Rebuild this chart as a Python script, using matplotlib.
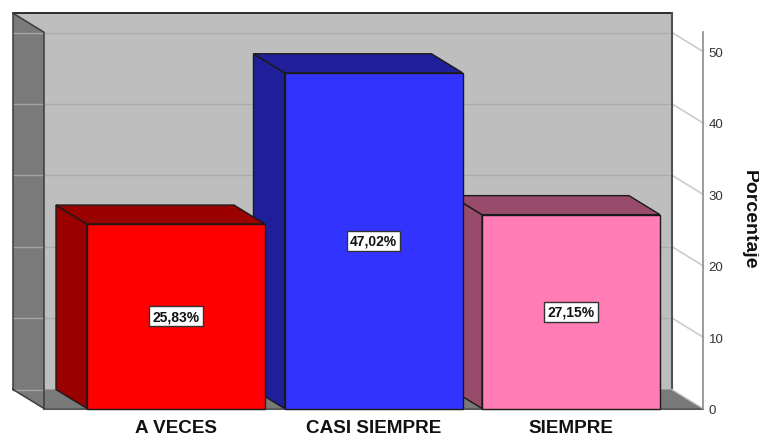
import matplotlib
matplotlib.use("Agg")
import matplotlib.pyplot as plt
from matplotlib.patches import Polygon

categories = ["A VECES", "CASI SIEMPRE", "SIEMPRE"]
values = [25.83, 47.02, 27.15]
front_colors = ["#FF0000", "#3333FF", "#FF7DB4"]
side_colors = ["#9B0000", "#1F1F99", "#994B6C"]
top_colors = ["#9B0000", "#1F1F99", "#994B6C"]
y_ticks = [0, 10, 20, 30, 40, 50]

plt.rcParams["font.family"] = ["Liberation Sans", "DejaVu Sans"]
W, H = 759, 435
fig = plt.figure(figsize=(W / 100, H / 100), dpi=100)
ax = fig.add_axes([0, 0, 1, 1])

# scale: pixels per unit
px_x = 197.5
px_y = 7.14
x0_px, y0_px = 176, 409.5
ax.set_xlim(-x0_px / px_x, (W - x0_px) / px_x)
ax.set_ylim(-(H - y0_px) / px_y, y0_px / px_y)
ax.patch.set_alpha(0)

dx = 31 / px_x      # depth offset in x units
dy = 19 / px_y      # depth offset in y units
bw = 178 / px_x     # bar width
xl = (44 - x0_px) / px_x    # front left of the chart box
xr = (703 - x0_px) / px_x   # front right of the chart box
ytop = 52.7                 # front top of the chart box

edge = "#1A1A1A"
wall_edge = "#3C3C3C"

# back wall
ax.add_patch(Polygon([(xl - dx, dy), (xr - dx, dy), (xr - dx, ytop + dy), (xl - dx, ytop + dy)],
                     closed=True, fc="#BEBEBE", ec="none", zorder=1))
# gridlines on the back wall
for t in y_ticks[1:]:
    ax.plot([xl - dx, xr - dx], [t + dy, t + dy], color="#ABABAB", lw=1, zorder=1.1)
    ax.plot([xr - dx, xr], [t + dy, t], color="#CCCCCC", lw=1.2, zorder=1.1)
ax.plot([xl - dx, xr - dx], [ytop + dy, ytop + dy], color="#1E1E1E", lw=1.3, zorder=1.2)
ax.plot([xr - dx, xr - dx], [dy, ytop + dy], color="#505050", lw=1.5, zorder=1.2)

# floor
ax.add_patch(Polygon([(xl - dx, dy), (xr - dx, dy), (xr, 0), (xl, 0)],
                     closed=True, fc="#7A7A7A", ec="none", zorder=1.3))
ax.plot([xl, xr], [0, 0], color="#5A5A5A", lw=1.5, zorder=1.4)
ax.plot([xr - dx, xr], [dy, 0], color="#C8C8C8", lw=1, zorder=1.4)

# left wall
ax.add_patch(Polygon([(xl - dx, dy), (xl, 0), (xl, ytop), (xl - dx, ytop + dy)],
                     closed=True, fc="#7A7A7A", ec="none", zorder=1.5))
for t in y_ticks:
    ax.plot([xl - dx, xl], [t + dy, t + dy], color="#A6A6A6", lw=1, zorder=1.6)
ax.plot([xl - dx, xl - dx, xl, xl, xl - dx],
        [dy, ytop + dy, ytop, 0, dy], color=wall_edge, lw=1.1, zorder=1.7)

# bars, right to left so nearer bars overlap
for i in range(len(values) - 1, -1, -1):
    v = values[i]
    left = i - bw / 2
    right = i + bw / 2
    z = 2 + (len(values) - i)
    ax.add_patch(Polygon([(left - dx, dy), (left, 0), (left, v), (left - dx, v + dy)],
                         closed=True, fc=side_colors[i], ec=edge, lw=1.0, zorder=z))
    ax.add_patch(Polygon([(left - dx, v + dy), (right - dx, v + dy), (right, v), (left, v)],
                         closed=True, fc=top_colors[i], ec=edge, lw=1.0, zorder=z))
    ax.add_patch(Polygon([(left, 0), (right, 0), (right, v), (left, v)],
                         closed=True, fc=front_colors[i], ec=edge, lw=1.0, zorder=z + 0.1))
    ax.text(i, v / 2, f"{v:.2f}%".replace(".", ","), ha="center", va="center",
            fontsize=10, fontweight="bold", color="#111111", zorder=10,
            bbox=dict(boxstyle="square,pad=0.22", fc="white", ec="#333333", lw=1))

# value axis
for s in ["top", "left", "bottom"]:
    ax.spines[s].set_visible(False)
ax.spines["right"].set_position(("data", xr))
ax.spines["right"].set_bounds(0, ytop)
ax.spines["right"].set_color("#8C8C8C")
ax.spines["right"].set_linewidth(1.2)
ax.spines["right"].set_zorder(1.9)
ax.yaxis.tick_right()
ax.set_yticks(y_ticks)
ax.set_yticklabels([str(t) for t in y_ticks], fontsize=9.5, color="#333333",
                   va="center_baseline")
ax.tick_params(axis="y", length=0, pad=4)

# category axis, labels pulled back inside the figure
ax.set_xticks(range(len(categories)))
ax.set_xticklabels(categories, fontsize=13.6, fontweight="bold", color="#111111")
ax.tick_params(axis="x", length=0, pad=-11)

ax.text((749 - x0_px) / px_x, (y0_px - 220) / px_y, "Porcentaje", rotation=270,
        ha="center", va="center", fontsize=14, fontweight="bold", color="#111111")

fig.savefig("out.png", dpi=100, facecolor="white")
